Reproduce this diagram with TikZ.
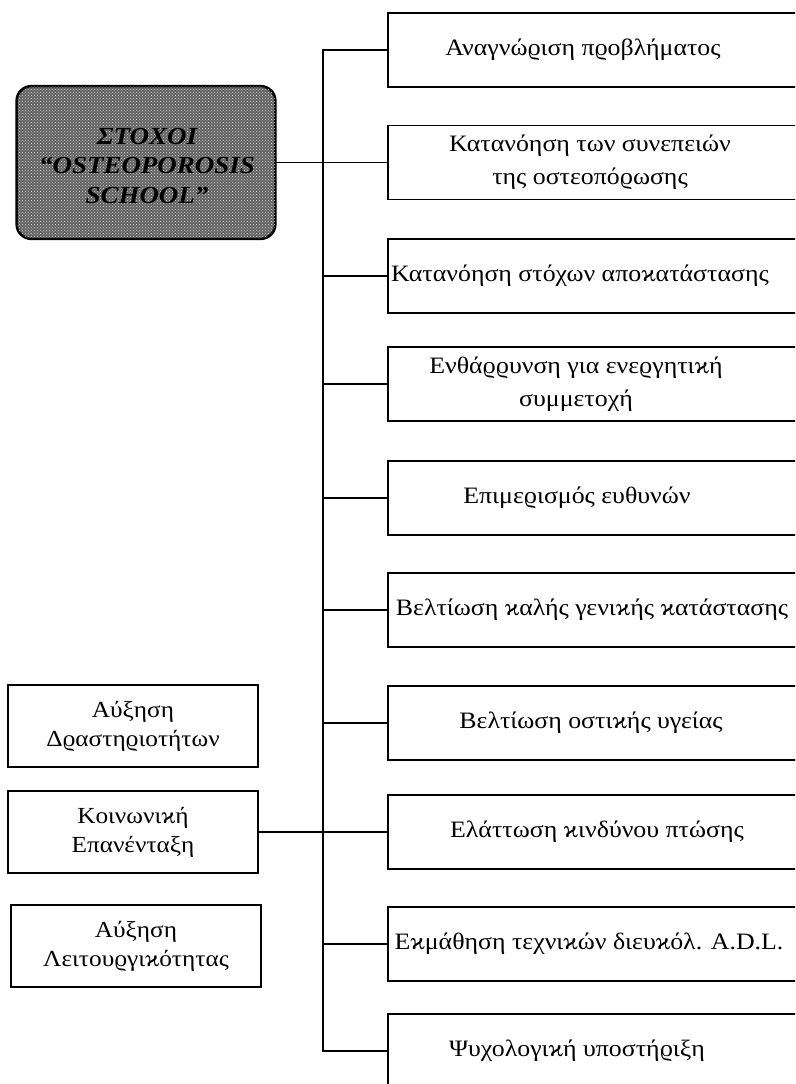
\documentclass[tikz,border=0pt]{standalone}
\usepackage{fontspec}
\setmainfont[FakeStretch=1.1]{Liberation Serif}
\usetikzlibrary{patterns}
\begin{document}
\begin{tikzpicture}[x=1pt,y=-1pt,
  line width=1.6pt,
  rbox/.style={draw, line width=1.6pt, minimum width=420pt, minimum height=74pt, anchor=west, inner sep=0pt},
  rtxt/.style={align=center, inner sep=0pt, font=\fontsize{23.5}{33}\selectfont},
  lbox/.style={draw, line width=1.6pt, minimum width=250pt, minimum height=82pt, align=center, inner sep=0pt, font=\fontsize{23}{29}\selectfont},
  titlebox/.style={draw, line width=1.6pt, rounded corners=15pt, fill=black!62, minimum width=258pt, minimum height=152pt, inner sep=0pt},
  titletxt/.style={align=center, inner sep=0pt, font=\bfseries\itshape\fontsize{24.5}{29.5}\selectfont},
  conn/.style={line width=1.6pt}]
\useasboundingbox (0,0) rectangle (795,1084);
\clip (0,0) rectangle (795,1084);
% right boxes
\node[rbox] (r1) at (387,50) {};
\node[rbox] (r2) at (387,162.5) {};
\node[rbox] (r3) at (387,276) {};
\node[rbox] (r4) at (387,384) {};
\node[rbox] (r5) at (387,498) {};
\node[rbox] (r6) at (387,610) {};
\node[rbox] (r7) at (387,723) {};
\node[rbox] (r8) at (387,832) {};
\node[rbox] (r9) at (387,944) {};
\node[rbox] (r10) at (387,1051) {};
\node[rtxt] (t1) at (583,50) {Αναγνώϱιση πϱοβλήματος};
\node[rtxt] (t2) at (590,162.5) {Κατανόηση των συνεπειών\\της οστεοπόϱωσης};
\node[rtxt] (t3) at (580,276) {Κατανόηση στόχων αποϰατάστασης};
\node[rtxt] (t4) at (576,384) {Ενθάϱϱυνση για ενεϱγητιϰή\\συμμετοχή};
\node[rtxt] (t5) at (577,498) {Επιμεϱισμός ευθυνών};
\node[rtxt] (t6) at (592,610) {Βελτίωση ϰαλής γενιϰής ϰατάστασης};
\node[rtxt] (t7) at (591,723) {Βελτίωση οστιϰής υγείας};
\node[rtxt] (t8) at (597,832) {Ελάττωση ϰινδύνου πτώσης};
\node[rtxt] (t9) at (589,944) {Εϰμάθηση τεχνιϰών διευϰόλ. A.D.L.};
\node[rtxt] (t10) at (577,1051) {Ψυχολογιϰή υποστήϱιξη};
% left boxes
\node[lbox] (a) at (133,726) {Αύξηση\\Δϱαστηϱιοτήτων};
\node[lbox] (b) at (133,832) {Κοινωνιϰή\\Επανένταξη};
\node[lbox] (c) at (136,946) {Αύξηση\\Λειτουϱγιϰότητας};
% title
\node[titlebox] (tt) at (146,162.5) {};
\fill[pattern=crosshatch dots, pattern color=white!85!black, rounded corners=15pt]
  (tt.south west) rectangle (tt.north east);
\draw[line width=1.6pt, rounded corners=15pt] (tt.south west) rectangle (tt.north east);
\node[titletxt] (ttx) at (147,166) {ΣΤΟΧΟΙ\\“OSTEOPOROSIS\\SCHOOL”};
% connectors
\coordinate (top) at (323,50);
\coordinate (bot) at (323,1051);
\draw[conn] (r1.west) -- (top) -- (bot) -- (r10.west);
\draw[conn] (tt.east) -- (r2.west);
\draw[conn] (b.east) -- (r8.west);
\foreach \i in {3,4,5,6,7,9} {\draw[conn] (r\i.west) -- (r\i.west -| top);}
\end{tikzpicture}
\end{document}
